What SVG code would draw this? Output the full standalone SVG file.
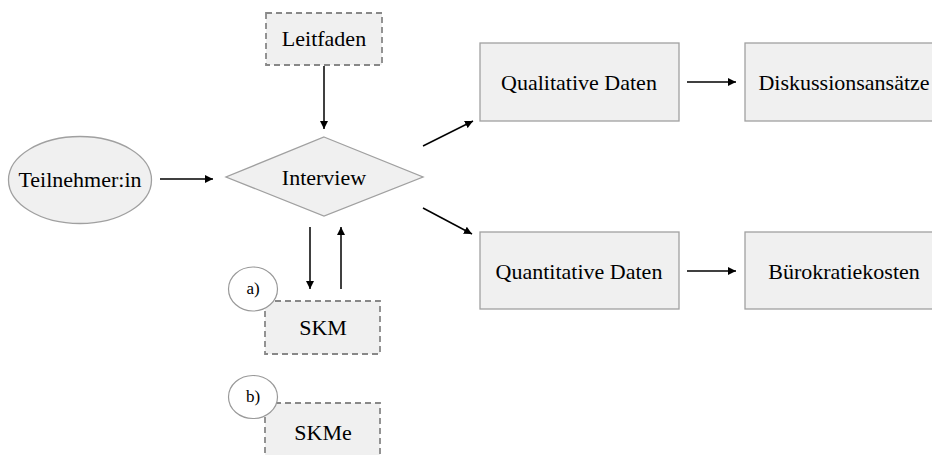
<svg xmlns="http://www.w3.org/2000/svg" width="932" height="455" viewBox="0 0 932 455">
<defs>
<marker id="ah" viewBox="0 0 10 10" refX="10" refY="5" markerWidth="8" markerHeight="8" markerUnits="userSpaceOnUse" orient="auto">
<path d="M0,0 L10,5 L0,10 z" fill="#000"/>
</marker>
<style>
.box{fill:#f0f0f0;stroke:#a0a0a0;stroke-width:1.3}
.dash{fill:#f0f0f0;stroke:#888;stroke-width:1.8;stroke-dasharray:6,4}
text{font-family:'Liberation Serif','Times New Roman',serif;fill:#000;text-anchor:middle}
.lbl{font-size:22px}
.sm{font-size:17px}
.con{stroke:#000;stroke-width:1.5;fill:none;marker-end:url(#ah)}
.circ{fill:#fff;stroke:#999;stroke-width:1.2}
</style>
</defs>
<rect width="932" height="455" fill="#fff"/>
<g id="connectors">
<line class="con" x1="324" y1="66" x2="324" y2="129"/>
<line class="con" x1="160" y1="179" x2="213" y2="179"/>
<line class="con" x1="423" y1="146" x2="473" y2="121"/>
<line class="con" x1="423" y1="208" x2="472" y2="234"/>
<line class="con" x1="687" y1="82" x2="736" y2="82"/>
<line class="con" x1="687" y1="271" x2="736" y2="271"/>
<line class="con" x1="310" y1="227" x2="310" y2="289"/>
<line class="con" x1="341" y1="289" x2="341" y2="227"/>
</g>
<g id="leitfaden">
<rect class="dash" x="266" y="13" width="116" height="52"/>
<text class="lbl" x="324" y="46">Leitfaden</text>
</g>
<g id="teilnehmer">
<ellipse class="box" cx="80" cy="180" rx="71.5" ry="43.5"/>
<text class="lbl" x="80" y="187">Teilnehmer:in</text>
</g>
<g id="interview">
<polygon class="box" points="324,137 423,177 324,216 226,177"/>
<text class="lbl" x="324" y="185">Interview</text>
</g>
<g id="qualitative">
<rect class="box" x="480" y="43" width="199" height="78"/>
<text class="lbl" x="579" y="90">Qualitative Daten</text>
</g>
<g id="diskussion">
<rect class="box" x="745" y="43" width="199" height="78"/>
<text class="lbl" x="844" y="90">Diskussionsansätze</text>
</g>
<g id="quantitative">
<rect class="box" x="480" y="232" width="199" height="77"/>
<text class="lbl" x="579" y="279">Quantitative Daten</text>
</g>
<g id="buerokratie">
<rect class="box" x="745" y="232" width="199" height="77"/>
<text class="lbl" x="844" y="279">Bürokratiekosten</text>
</g>
<g id="skm">
<rect class="dash" x="265" y="301" width="115" height="53"/>
<text class="lbl" x="323" y="335">SKM</text>
</g>
<g id="label-a">
<ellipse class="circ" cx="253" cy="289" rx="24.5" ry="22"/>
<text class="sm" x="253" y="294">a)</text>
</g>
<g id="skme">
<rect class="dash" x="265" y="403" width="115" height="60"/>
<text class="lbl" x="323" y="440">SKMe</text>
</g>
<g id="label-b">
<ellipse class="circ" cx="253" cy="397" rx="24.5" ry="21.5"/>
<text class="sm" x="253" y="402">b)</text>
</g>
</svg>
